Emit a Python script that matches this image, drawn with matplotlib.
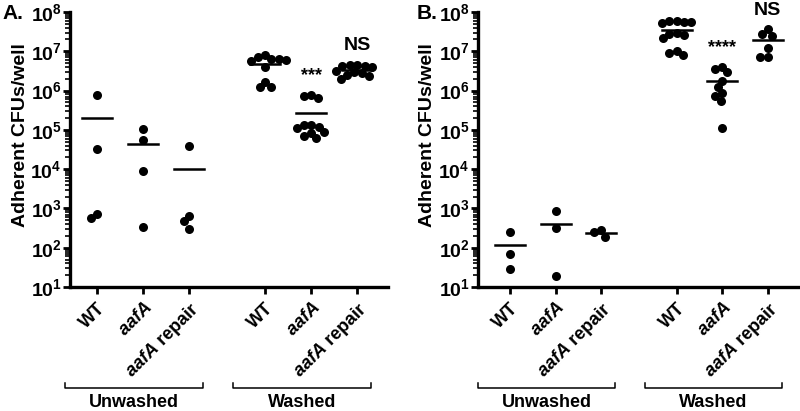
import numpy as np
import matplotlib
matplotlib.use('Agg')
import matplotlib.pyplot as plt
import matplotlib.transforms as mtransforms

plt.rcParams['font.family'] = ['Liberation Sans', 'DejaVu Sans']
plt.rcParams['font.weight'] = 'bold'
plt.rcParams['mathtext.fontset'] = 'custom'
plt.rcParams['mathtext.rm'] = 'Liberation Sans:weight=bold'
plt.rcParams['mathtext.bf'] = 'Liberation Sans:weight=bold'
plt.rcParams['mathtext.it'] = 'Liberation Sans:style=italic:weight=bold'

# ---- data (CFUs/well) ----
strains = ['WT', r'$\mathit{aafA}$', r'$\mathit{aafA}$ repair']
conditions = ['Unwashed', 'Washed']

a_unwashed_wt = [7.8e5, 3.2e4, 740, 560]
a_unwashed_aafa = [1.07e5, 5.6e4, 9.1e3, 330]
a_unwashed_rep = [4.0e4, 660, 490, 295]
a_washed_wt = [8.2e6, 7.0e6, 6.3e6, 6.3e6, 5.8e6, 6.0e6, 4.0e6, 1.7e6, 1.26e6, 1.26e6]
a_washed_aafa = [7.8e5, 7.4e5, 6.3e5, 1.3e5, 1.3e5, 1.2e5, 1.1e5, 9.0e4, 8.3e4, 7.0e4, 6.1e4]
a_washed_rep = [4.5e6, 4.4e6, 4.3e6, 4.2e6, 4.0e6, 3.2e6, 3.0e6, 2.8e6, 2.5e6, 2.4e6, 2.0e6]

b_unwashed_wt = [257, 69, 29]
b_unwashed_aafa = [870, 316, 19]
b_unwashed_rep = [280, 257, 190]
b_washed_wt = [6.0e7, 5.8e7, 5.6e7, 5.5e7, 5.2e7, 3.0e7, 2.8e7, 2.6e7, 2.2e7, 1.0e7, 9.0e6, 8.0e6]
b_washed_aafa = [4.0e6, 3.5e6, 2.9e6, 1.8e6, 1.26e6, 8.5e5, 7.4e5, 5.5e5, 1.1e5]
b_washed_rep = [3.6e7, 2.7e7, 2.5e7, 1.2e7, 7.1e6, 7.1e6]

a_sig = ['***', 'NS']
b_sig = ['****', 'NS']

panel_a = [a_unwashed_wt, a_unwashed_aafa, a_unwashed_rep, a_washed_wt, a_washed_aafa, a_washed_rep]
panel_b = [b_unwashed_wt, b_unwashed_aafa, b_unwashed_rep, b_washed_wt, b_washed_aafa, b_washed_rep]

positions = [0, 1, 2, 3.65, 4.65, 5.65]


def swarm(ax, x0, vals, d=7.5):
    # simple beeswarm in display pixels
    pts = ax.transData.transform(np.column_stack([np.full(len(vals), x0), vals]))
    xc = pts[0, 0]
    placed = []
    out = []
    for y in pts[:, 1]:
        cands = [0.0]
        for px, py in placed:
            dy = abs(py - y)
            if dy < d:
                w = np.sqrt(d * d - dy * dy)
                cands += [px - w, px + w]
        cands.sort(key=abs)
        for c in cands:
            ok = all((c - px) ** 2 + (y - py) ** 2 >= d * d - 1e-6 for px, py in placed)
            if ok:
                placed.append((c, y))
                out.append((xc + c, y))
                break
    return ax.transData.inverted().transform(np.array(out))


fig = plt.figure(figsize=(8, 4.11), dpi=100)
ax_a = fig.add_axes([0.0875, 0.3017, 0.3975, 0.669])
ax_b = fig.add_axes([0.5975, 0.3017, 0.40, 0.669])

for ax, data, sig, xl in [(ax_a, panel_a, a_sig, (-0.59, 6.32)),
                          (ax_b, panel_b, b_sig, (-0.70, 6.31))]:
    ax.set_yscale('log')
    ax.set_ylim(10, 1e8)
    ax.set_xlim(*xl)
    for pos, vals in zip(positions, data):
        xy = swarm(ax, pos, vals)
        ax.plot(xy[:, 0], xy[:, 1], 'o', color='black', markersize=6.5,
                markeredgewidth=0, clip_on=False)
        ax.plot([pos - 0.33, pos + 0.33], [np.mean(vals)] * 2, color='black', lw=1.8)
    for pos, vals, s in zip(positions[4:], data[4:], sig):
        fs = 14 if s == 'NS' else 13
        ax.annotate(s, (pos, max(vals)), xytext=(0, 14), textcoords='offset points',
                    ha='center', va='center', fontsize=fs, fontweight='bold')

    ax.set_yticks([10.0 ** k for k in range(1, 9)])
    ax.set_yticklabels([r'$\mathbf{10^{%d}}$' % k for k in range(1, 9)], fontsize=14)
    ax.set_xticks(positions)
    ax.set_xticklabels(strains * 2, rotation=45, ha='right', va='top',
                       rotation_mode='anchor', fontsize=13, fontweight='bold')
    ax.tick_params(axis='y', which='major', length=5, width=2, pad=1)
    ax.tick_params(axis='y', which='minor', length=3.5, width=1.2)
    ax.tick_params(axis='x', length=5, width=2, pad=4)
    for side in ['top', 'right']:
        ax.spines[side].set_visible(False)
    for side in ['left', 'bottom']:
        ax.spines[side].set_linewidth(2.4)
    ax.set_ylabel('Adherent CFUs/well', fontsize=14, fontweight='bold')
    ax.yaxis.set_label_coords(-0.13, 0.553)

    # group brackets
    trans = mtransforms.blended_transform_factory(ax.transData, ax.transAxes)
    for i, cond in enumerate(conditions):
        x1 = positions[3 * i] - 0.7
        x2 = positions[3 * i + 2] + 0.3
        ax.plot([x1, x1, x2, x2], [-0.349, -0.367, -0.367, -0.349], color='black',
                lw=1.1, transform=trans, clip_on=False)
        ax.text((x1 + x2) / 2, -0.42, cond, transform=trans, ha='center', va='center',
                fontsize=13, fontweight='bold')

fig.text(0.003, 0.968, 'A.', fontsize=15, fontweight='bold', va='center', ha='left')
fig.text(0.521, 0.968, 'B.', fontsize=15, fontweight='bold', va='center', ha='left')

fig.savefig('out.png', dpi=100)
